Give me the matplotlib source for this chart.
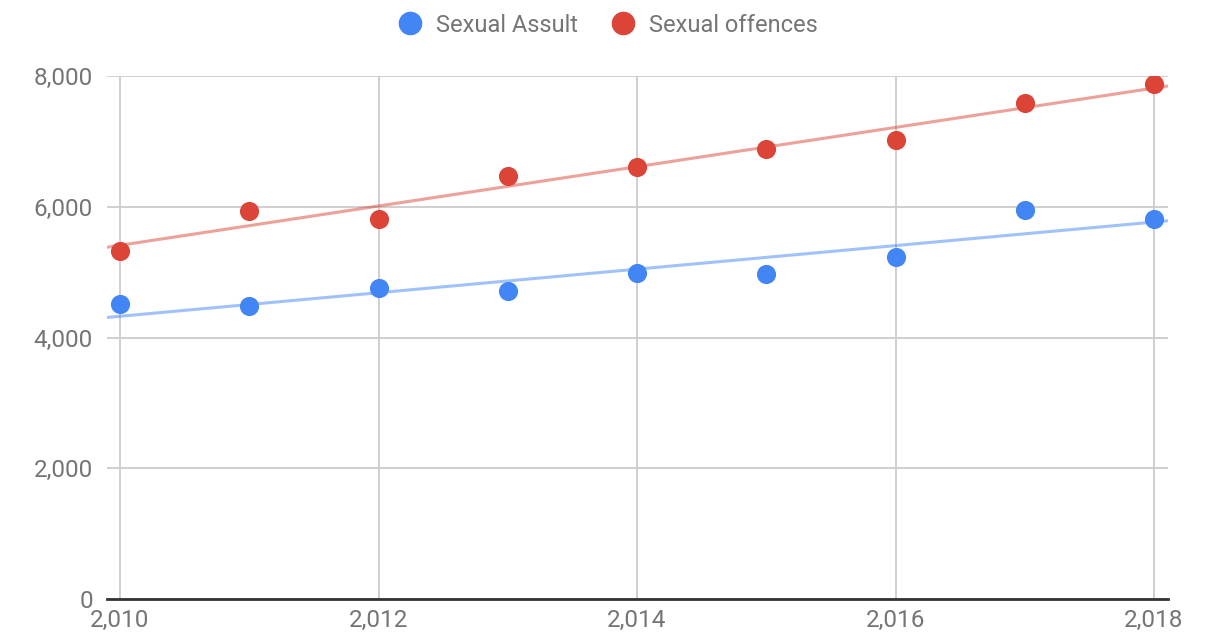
import matplotlib
matplotlib.use("Agg")
import matplotlib.pyplot as plt
import numpy as np
from matplotlib.lines import Line2D
from matplotlib.ticker import FuncFormatter

years = [2010, 2011, 2012, 2013, 2014, 2015, 2016, 2017, 2018]
sexual_assault = [4510, 4480, 4760, 4710, 4990, 4970, 5230, 5950, 5810]
sexual_offences = [5320, 5935, 5810, 6470, 6610, 6880, 7020, 7590, 7880]
series_names = ["Sexual Assult", "Sexual offences"]
colors = ["#4285F4", "#DB4437"]
y_ticks = [0, 2000, 4000, 6000, 8000]
x_ticks = [2010, 2012, 2014, 2016, 2018]

plt.rcParams['font.family'] = ['Roboto', 'DejaVu Sans']

fig = plt.figure(figsize=(12.15, 6.36), dpi=100)
ax = fig.add_axes([107/1215, 1-599/636, (1168-107)/1215, (599-76)/636])

xmin, xmax = 2009.899, 2018.108
ax.set_xlim(xmin, xmax)
ax.set_ylim(0, 8000)

for vals, c in zip([sexual_assault, sexual_offences], colors):
    p = np.polyfit(years, vals, 1)
    xs = np.array([xmin, xmax])
    ax.plot(xs, np.polyval(p, xs), color=c, alpha=0.5, lw=2.2, zorder=2, solid_capstyle='butt')
    ax.scatter(years, vals, s=190, color=c, zorder=3, linewidths=0)

ax.set_yticks(y_ticks)
ax.set_xticks(x_ticks)
fmt = FuncFormatter(lambda v, pos: f"{int(v):,}")
ax.xaxis.set_major_formatter(fmt)
ax.yaxis.set_major_formatter(fmt)
ax.grid(True, color="#cccccc", lw=1.3)
ax.set_axisbelow(True)
for s in ["top", "right", "left"]:
    ax.spines[s].set_visible(False)
ax.spines["bottom"].set_color("#333333")
ax.spines["bottom"].set_linewidth(2)
ax.spines["bottom"].set_zorder(4)
ax.tick_params(axis='both', length=0, labelsize=17.5, colors="#757575")
ax.tick_params(axis='y', pad=10)
ax.tick_params(axis='x', pad=7)

handles = [Line2D([], [], marker='o', ls='none', color=c, markersize=17, markeredgewidth=0) for c in colors]
fig.legend(handles, series_names, loc='center', bbox_to_anchor=(607/1215, 1-25/636), ncol=2,
           frameon=False, fontsize=17, labelcolor="#757575", handletextpad=0.5, columnspacing=1.3,
           handlelength=1.2)

fig.savefig("out.png", dpi=100)
